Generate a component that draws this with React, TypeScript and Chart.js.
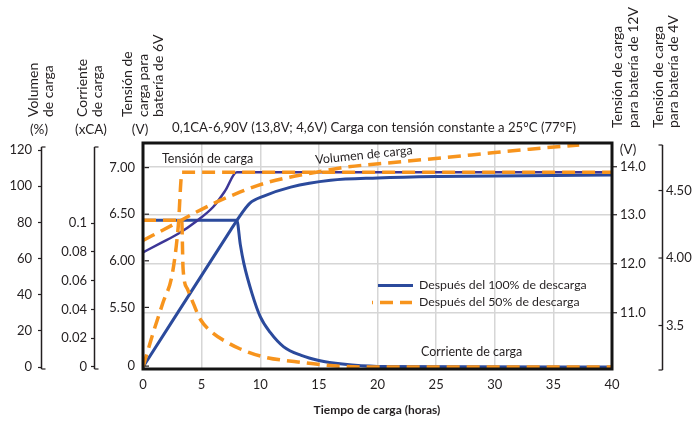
import React, { useEffect, useRef } from 'react';
import { Chart, registerables } from 'chart.js';

Chart.register(...registerables);

const FONT = 'Lato, "Noto Sans", "DejaVu Sans", sans-serif';
const INK = '#231f20';
const BLUE = '#2b4a9c';
const PURPLE = '#3c3697';
const ORANGE = '#f7941d';
const GRID = '#d6d6d6';

// ---- X axis (hours)
const timeMin = 0;
const timeMax = 40;
const timeStep = 5;

// ---- Axis ticks and labels
const pctTicks = [0, 20, 40, 60, 80, 100, 120];
const pctLabels = ['0', '20', '40', '60', '80', '100', '120'];
const caTicks = [0, 0.02, 0.04, 0.06, 0.08, 0.1];
const caLabels = ['0', '0.02', '0.04', '0.06', '0.08', '0.1'];
const v6Ticks = [4.87, 5.5, 6.0, 6.5, 7.0];
const v6Labels = ['0', '5.50', '6.00', '6.50', '7.00'];
const v12Ticks = [11, 12, 13, 14];
const v12Labels = ['11.0', '12.0', '13.0', '14.0'];
const v4Ticks = [3.5, 4.0, 4.5];
const v4Labels = ['3.5', '4.00', '4.50'];

// ---- Axis ranges
const pctRange = [-1.1, 123.9];
const caRange = [-0.0014, 0.1556];
const v6Range = [4.839, 7.264];
const v12Range = [9.846, 14.478];
const v4Range = [3.178, 4.852];

// ---- Series: after 100% discharge (solid)
const v100Time = [0, 1.5, 3, 4.5, 6, 7, 8, 40];
const v100Volt = [6.09, 6.19, 6.29, 6.42, 6.58, 6.75, 6.95, 6.95];

const q100Time = [0, 7.5, 8, 9.1, 10.3, 12.6, 16, 20, 25, 40];
const q100Pct = [0, 76, 81, 90.5, 94.5, 99.5, 103.3, 104.6, 105.4, 106.2];

const i100Time = [0, 7.5, 8, 8.3, 8.6, 9.3, 10, 10.85, 12, 13.5, 15, 17, 20, 40];
const i100CA = [0.102, 0.102, 0.102, 0.085, 0.072, 0.051, 0.035, 0.024, 0.014, 0.008, 0.0045, 0.002, 0.0004, 0];

// ---- Series: after 50% discharge (dashed)
const v50Time = [0, 0.85, 1.7, 2.5, 3.0, 3.33, 40];
const v50Volt = [4.86, 5.22, 5.55, 5.86, 6.36, 6.95, 6.95];

const q50Time = [0, 2.5, 4.5, 6.3, 8.3, 10.3, 12.5, 15, 17, 22, 28, 33, 37.2];
const q50Pct = [70, 78.5, 85.5, 91.3, 96.8, 101.5, 105, 108, 110.3, 113.5, 117.3, 120.5, 122.8];

const i50Time = [0, 3.3, 3.42, 3.8, 4.3, 4.9, 5.9, 7.2, 8.3, 10.3, 13.2, 16, 19, 40];
const i50CA = [0.102, 0.102, 0.068, 0.054, 0.044, 0.033, 0.024, 0.017, 0.0125, 0.007, 0.0035, 0.001, 0, 0];

// ---- Texts
const subtitle = '0,1CA-6,90V (13,8V; 4,6V) Carga con tensión constante a 25°C (77°F)';
const xTitle = 'Tiempo de carga (horas)';
const legend100 = 'Después del 100% de descarga';
const legend50 = 'Después del 50% de descarga';

const pts = (ts: number[], vs: number[]) => ts.map((t, i) => ({ x: t, y: vs[i] }));

function fixedTicks(vals: number[], labels: string[]) {
  return {
    afterBuildTicks: (s: any) => {
      s.ticks = vals.map((v) => ({ value: v }));
    },
    labels,
  };
}

function txt(ctx: CanvasRenderingContext2D, s: string, x: number, y: number, o: any = {}) {
  ctx.save();
  ctx.font = `${o.bold ? 'bold ' : ''}${o.size || 12.5}px ${FONT}`;
  ctx.fillStyle = INK;
  ctx.textAlign = o.align || 'left';
  ctx.textBaseline = o.baseline || 'middle';
  ctx.translate(x, y);
  if (o.rot) ctx.rotate(o.rot);
  ctx.fillText(s, 0, 0);
  ctx.restore();
}

function line(ctx: CanvasRenderingContext2D, x1: number, y1: number, x2: number, y2: number) {
  ctx.beginPath();
  ctx.moveTo(x1, y1);
  ctx.lineTo(x2, y2);
  ctx.stroke();
}

const annotPlugin = {
  id: 'annot',
  afterDatasetsDraw(chart: any) {
    const { ctx, chartArea: ca, scales } = chart;
    ctx.save();
    ctx.setLineDash([]);
    // plot frame
    ctx.strokeStyle = '#141414';
    ctx.lineWidth = 3;
    ctx.strokeRect(ca.left, ca.top, ca.right - ca.left, ca.bottom - ca.top);

    ctx.strokeStyle = INK;
    ctx.lineWidth = 1.2;
    // inside ticks of 6V axis
    const y6 = scales.y6;
    y6.ticks.forEach((t: any) => {
      const py = y6.getPixelForValue(t.value);
      line(ctx, ca.left + 1.5, py, ca.left + 6, py);
    });
    // left axis lines with end stubs
    ['yPct', 'yCA'].forEach((id) => {
      const s = scales[id];
      const x = Math.round(s.right) - 0.5;
      ctx.lineWidth = 1.5;
      line(ctx, x, ca.top + 4, x, ca.bottom);
      ctx.lineWidth = 1.2;
      line(ctx, x, ca.top + 4, x + 4, ca.top + 4);
      line(ctx, x, ca.bottom, x + 4, ca.bottom);
    });
    // 4V axis
    const y4 = scales.y4;
    const x4 = Math.round(y4.left) + 0.5;
    ctx.lineWidth = 1.5;
    line(ctx, x4, ca.top + 2, x4, ca.bottom + 1);
    ctx.lineWidth = 1.2;
    line(ctx, x4 - 4, ca.top + 2, x4, ca.top + 2);
    line(ctx, x4 - 4, ca.bottom + 1, x4, ca.bottom + 1);
    y4.ticks.forEach((t: any) => {
      const py = y4.getPixelForValue(t.value);
      line(ctx, x4 - 4, py, x4, py);
    });
    ctx.restore();
  },
  afterDraw(chart: any) {
    const { ctx } = chart;
    const R = -Math.PI / 2;
    // rotated axis titles (left)
    txt(ctx, 'Volumen', 33, 117, { rot: R, size: 14 });
    txt(ctx, 'de carga', 48, 117, { rot: R, size: 14 });
    txt(ctx, 'Corriente', 82, 117, { rot: R, size: 14 });
    txt(ctx, 'de carga', 97, 117, { rot: R, size: 14 });
    txt(ctx, 'Tensión de', 127, 117, { rot: R, size: 14 });
    txt(ctx, 'carga para', 143, 117, { rot: R, size: 14 });
    txt(ctx, 'batería de 6V', 158, 117, { rot: R, size: 14 });
    // rotated axis titles (right)
    txt(ctx, 'Tensión de carga', 617, 128, { rot: R, size: 14 });
    txt(ctx, 'para batería de 12V', 633, 128, { rot: R, size: 14 });
    txt(ctx, 'Tensión de carga', 658, 128, { rot: R, size: 14 });
    txt(ctx, 'para batería de 4V', 673, 128, { rot: R, size: 14 });
    // units
    txt(ctx, '(%)', 39, 130, { align: 'center', size: 13.5 });
    txt(ctx, '(xCA)', 91, 130, { align: 'center', size: 13.5 });
    txt(ctx, '(V)', 140, 130, { align: 'center', size: 13.5 });
    txt(ctx, '(V)', 628, 150, { align: 'center', size: 13.5 });
    // subtitle
    txt(ctx, subtitle, 172, 128, { size: 13.2 });
    // in-plot labels
    txt(ctx, 'Tensión de carga', 162, 159, { size: 12.5 });
    txt(ctx, 'Volumen de carga', 364, 155, { size: 12.5, align: 'center', rot: -0.1 });
    txt(ctx, 'Corriente de carga', 421, 352, { size: 12.5 });
    // legend
    ctx.save();
    ctx.lineCap = 'butt';
    ctx.strokeStyle = BLUE;
    ctx.lineWidth = 3;
    line(ctx, 378, 285.5, 413, 285.5);
    ctx.strokeStyle = ORANGE;
    ctx.lineWidth = 3.5;
    ctx.setLineDash([13, 7]);
    ctx.lineDashOffset = 12;
    line(ctx, 372, 302.5, 412, 302.5);
    ctx.restore();
    txt(ctx, legend100, 419, 285, { size: 12.3 });
    txt(ctx, legend50, 419, 302, { size: 12.3 });
    // x title
    txt(ctx, xTitle, 377, 410, { align: 'center', bold: true, size: 12 });
  },
};

const tickFont = { family: FONT, size: 13 };

export default function App() {
  const ref = useRef<HTMLCanvasElement | null>(null);

  useEffect(() => {
    if (!ref.current) return;
    const common = {
      pointRadius: 0,
      fill: false,
      cubicInterpolationMode: 'monotone' as const,
      borderCapStyle: 'butt' as const,
      xAxisID: 'x',
    };
    const dashed = { borderColor: ORANGE, borderDash: [13, 7], borderWidth: 3.5 };

    const pct = fixedTicks(pctTicks, pctLabels);
    const cat = fixedTicks(caTicks, caLabels);
    const v6 = fixedTicks(v6Ticks, v6Labels);
    const v12 = fixedTicks(v12Ticks, v12Labels);
    const v4 = fixedTicks(v4Ticks, v4Labels);

    const chart = new Chart(ref.current, {
      type: 'line',
      data: {
        datasets: [
          { ...common, ...dashed, label: 'Volumen 50%', yAxisID: 'yPct', data: pts(q50Time, q50Pct) },
          { ...common, ...dashed, label: 'Tensión 50%', yAxisID: 'y6', data: pts(v50Time, v50Volt) },
          { ...common, ...dashed, label: 'Corriente 50%', yAxisID: 'yCA', data: pts(i50Time, i50CA) },
          { ...common, label: 'Tensión 100%', yAxisID: 'y6', borderColor: PURPLE, borderWidth: 2.5, data: pts(v100Time, v100Volt) },
          { ...common, label: 'Volumen 100%', yAxisID: 'yPct', borderColor: BLUE, borderWidth: 3, data: pts(q100Time, q100Pct) },
          { ...common, label: 'Corriente 100%', yAxisID: 'yCA', borderColor: BLUE, borderWidth: 3, data: pts(i100Time, i100CA) },
        ] as any,
      },
      options: {
        animation: false,
        responsive: true,
        maintainAspectRatio: false,
        layout: { padding: { top: 143, left: 0, right: 0, bottom: 0 } },
        plugins: { legend: { display: false }, tooltip: { enabled: false } },
        scales: {
          x: {
            type: 'linear',
            position: 'bottom',
            min: timeMin,
            max: timeMax,
            ticks: { stepSize: timeStep, font: tickFont, color: INK, padding: 8, maxRotation: 0 },
            grid: { color: GRID, lineWidth: 1.5, drawTicks: false },
            border: { display: false },
            afterFit: (s: any) => { s.height = 54; },
          },
          yPct: {
            type: 'linear',
            position: 'left',
            weight: 2,
            min: pctRange[0],
            max: pctRange[1],
            afterBuildTicks: pct.afterBuildTicks,
            ticks: { font: tickFont, color: INK, padding: 6, autoSkip: false, callback: (_v: any, i: number) => pct.labels[i] },
            grid: { display: true, drawOnChartArea: false, tickLength: 4, tickColor: INK, tickWidth: 1.2 },
            border: { display: false },
            afterFit: (s: any) => { s.width = 42; },
          },
          yCA: {
            type: 'linear',
            position: 'left',
            weight: 1,
            min: caRange[0],
            max: caRange[1],
            afterBuildTicks: cat.afterBuildTicks,
            ticks: { font: tickFont, color: INK, padding: 4, autoSkip: false, callback: (_v: any, i: number) => cat.labels[i] },
            grid: { display: true, drawOnChartArea: false, tickLength: 4, tickColor: INK, tickWidth: 1.2 },
            border: { display: false },
            afterFit: (s: any) => { s.width = 53; },
          },
          y6: {
            type: 'linear',
            position: 'left',
            weight: 0,
            min: v6Range[0],
            max: v6Range[1],
            afterBuildTicks: v6.afterBuildTicks,
            ticks: { font: tickFont, color: INK, padding: 8, autoSkip: false, callback: (_v: any, i: number) => v6.labels[i] },
            grid: { display: false, drawTicks: false },
            border: { display: false },
            afterFit: (s: any) => { s.width = 48; },
          },
          y12: {
            type: 'linear',
            position: 'right',
            weight: 0,
            min: v12Range[0],
            max: v12Range[1],
            afterBuildTicks: v12.afterBuildTicks,
            ticks: { font: tickFont, color: INK, padding: 3, autoSkip: false, callback: (_v: any, i: number) => v12.labels[i] },
            grid: { color: GRID, lineWidth: 1.5, tickLength: 5, tickColor: INK, tickWidth: 1.2 },
            border: { display: false },
            afterFit: (s: any) => { s.width = 50; },
          },
          y4: {
            type: 'linear',
            position: 'right',
            weight: 1,
            min: v4Range[0],
            max: v4Range[1],
            afterBuildTicks: v4.afterBuildTicks,
            ticks: { font: tickFont, color: INK, padding: 4, autoSkip: false, callback: (_v: any, i: number) => v4.labels[i] },
            grid: { display: false, drawTicks: false },
            border: { display: false },
            afterFit: (s: any) => { s.width = 30; },
          },
        } as any,
      },
      plugins: [annotPlugin],
    });
    return () => chart.destroy();
  }, []);

  return (
    <div style={{ position: 'fixed', left: 0, top: 0, width: 692, height: 423, background: '#fff' }}>
      <canvas ref={ref} />
    </div>
  );
}
